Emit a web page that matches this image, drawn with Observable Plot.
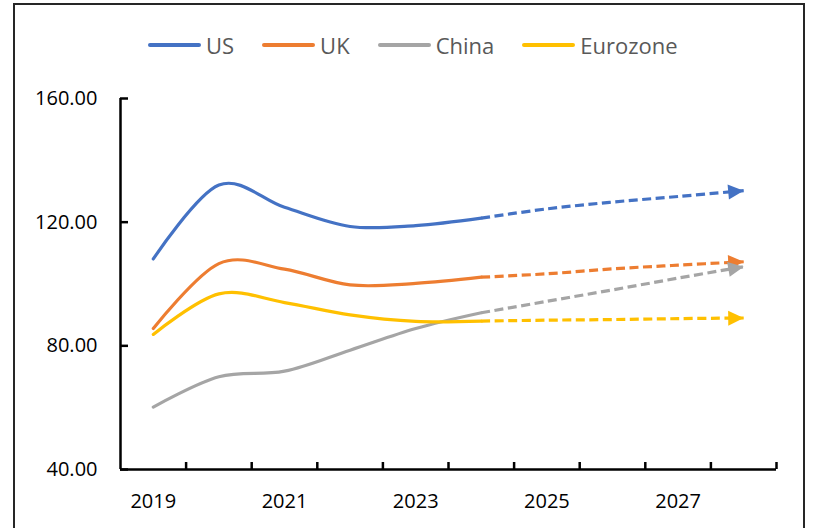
<!DOCTYPE html>
<html><head><meta charset="utf-8">
<script src="https://cdn.jsdelivr.net/npm/d3@7"></script>
<script src="https://cdn.jsdelivr.net/npm/@observablehq/plot@0.6"></script>
<style>
body{margin:0;background:#fff;width:813px;height:528px;overflow:hidden;position:relative;font-family:"Open Sans",sans-serif;}
#frame{position:absolute;left:13px;top:3px;width:792px;height:600px;border:2px solid #262626;box-sizing:border-box;pointer-events:none;}
#legend{position:absolute;left:148px;top:28px;display:flex;gap:28px;}
.item{display:flex;align-items:center;font-size:22px;color:#595959;line-height:34px;}
.sw{width:53px;height:3.5px;margin-right:5px;border-radius:2px;}
#chart{position:absolute;left:0;top:70px;}
</style></head>
<body>
<div id="legend"></div>
<div id="chart"></div>
<div id="frame"></div>
<script>
const years = [2019, 2020, 2021, 2022, 2023, 2024, 2025, 2026, 2027, 2028];
const seriesNames = ["US", "UK", "China", "Eurozone"];
const seriesColors = ["#4472C4", "#ED7D31", "#A5A5A5", "#FFC000"];
const actualYears = [2019, 2020, 2021, 2022, 2023, 2024];
const forecastYears = [2024, 2025, 2026, 2027, 2028];
const usActual = [108.1, 132.0, 124.8, 118.6, 118.9, 121.3];
const usForecast = [121.3, 124.3, 126.5, 128.3, 130.2];
const ukActual = [85.6, 106.6, 104.8, 99.7, 100.2, 102.2];
const ukForecast = [102.2, 103.3, 104.9, 106.1, 107.2];
const chinaActual = [60.2, 70.0, 71.8, 78.6, 85.6, 90.7];
const chinaForecast = [90.7, 94.4, 98.1, 101.9, 105.6];
const euroActual = [83.7, 96.8, 94.0, 90.0, 87.9, 88.0];
const euroForecast = [88.0, 88.3, 88.5, 88.8, 89.0];
const yTicks = [40, 80, 120, 160];
const xLabels = [2019, 2021, 2023, 2025, 2027];

const actualValues = [usActual, ukActual, chinaActual, euroActual];
const forecastValues = [usForecast, ukForecast, chinaForecast, euroForecast];
const actualRows = seriesNames.flatMap((s, i) => actualYears.map((y, j) => ({series: s, year: y, value: actualValues[i][j]})));
const forecastRows = seriesNames.flatMap((s, i) => forecastYears.map((y, j) => ({series: s, year: y, value: forecastValues[i][j]})));

// legend
const legend = document.getElementById("legend");
seriesNames.forEach((s, i) => {
  const it = document.createElement("div"); it.className = "item";
  const sw = document.createElement("div"); sw.className = "sw"; sw.style.background = seriesColors[i];
  const tx = document.createElement("span"); tx.textContent = s;
  it.append(sw, tx); legend.append(it);
});

function triangleMarker(color, context) {
  const doc = (context && context.document) || document;
  const ns = "http://www.w3.org/2000/svg";
  const m = doc.createElementNS(ns, "marker");
  m.setAttribute("viewBox", "-16 -8 16 16");
  m.setAttribute("markerWidth", "16");
  m.setAttribute("markerHeight", "16");
  m.setAttribute("markerUnits", "userSpaceOnUse");
  m.setAttribute("refX", "0");
  m.setAttribute("refY", "0");
  m.setAttribute("orient", "auto");
  const p = doc.createElementNS(ns, "path");
  p.setAttribute("d", "M-15.5,-7.5L0,0L-15.5,7.5Z");
  p.setAttribute("fill", color);
  p.setAttribute("stroke", "none");
  p.setAttribute("stroke-dasharray", "none");
  m.append(p);
  return m;
}

const W = 813, H = 458, mL = 120, mR = 37, mT = 28, mB = 59;
const plotW = W - mL - mR, plotH = H - mT - mB;
const lo = years[0] - 0.5, hi = years[years.length - 1] + 0.5;
const boundaries = years.map(y => y + 0.5);

const chart = Plot.plot({
  width: W, height: H,
  marginLeft: mL, marginRight: mR, marginTop: mT, marginBottom: mB,
  style: {fontFamily: "'Open Sans', sans-serif", fontSize: "20px", color: "#000", background: "transparent"},
  x: {domain: [lo, hi], axis: null},
  y: {domain: [40, 160], axis: null},
  color: {domain: seriesNames, range: seriesColors},
  marks: [
    Plot.line(actualRows, {x: "year", y: "value", z: "series", stroke: "series", strokeWidth: 3.2, curve: "cardinal", strokeLinecap: "round"}),
    Plot.line(forecastRows, {x: "year", y: "value", z: "series", stroke: "series", strokeWidth: 3.2, curve: "cardinal", strokeDasharray: "9,4.5", strokeLinecap: "butt", markerEnd: triangleMarker}),
    Plot.ruleX([lo], {stroke: "#000", strokeWidth: 2.5}),
    Plot.ruleY([40], {stroke: "#000", strokeWidth: 2.5}),
    Plot.ruleY(yTicks, {stroke: "#000", strokeWidth: 2.5, insetRight: plotW - 8}),
    Plot.ruleX(boundaries, {stroke: "#000", strokeWidth: 2.5, insetTop: plotH - 7}),
    Plot.axisY(yTicks, {tickSize: 0, tickPadding: 23, tickFormat: d => d.toFixed(2), fontSize: 20, anchor: "left", label: null}),
    Plot.axisX(xLabels, {tickSize: 0, tickPadding: 24, tickFormat: d => String(d), fontSize: 20, anchor: "bottom", label: null})
  ]
});
document.getElementById("chart").append(chart);
</script>
</body></html>
